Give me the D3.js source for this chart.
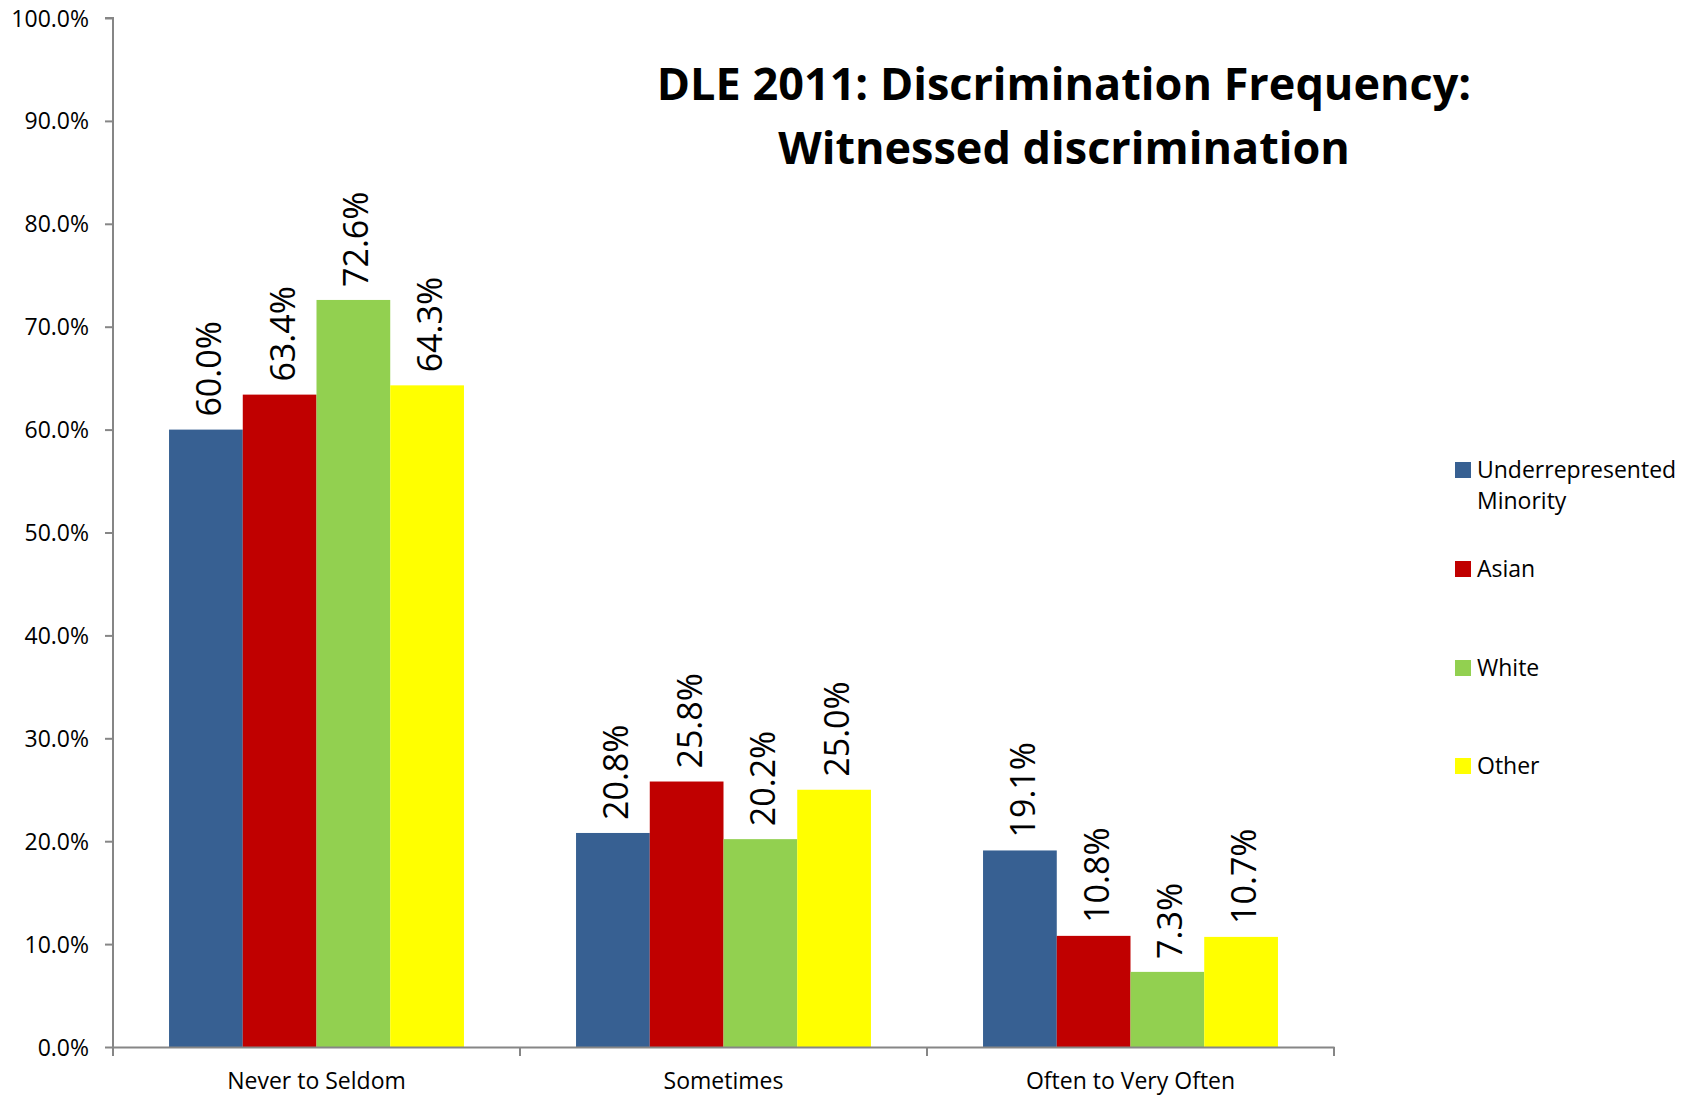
<!DOCTYPE html>
<html>
<head>
<meta charset="utf-8">
<script src="https://cdn.jsdelivr.net/npm/d3@7"></script>
<style>
  body { margin: 0; background: #fff; }
  svg { display: block; font-family: "Open Sans", sans-serif; }
</style>
</head>
<body>
<svg id="chart" width="1690" height="1097"></svg>
<script>
const categories = ['Never to Seldom', 'Sometimes', 'Often to Very Often'];
const seriesNames = ['Underrepresented Minority', 'Asian', 'White', 'Other'];
const seriesColors = ['#376092', '#C00000', '#92D050', '#FFFF00'];
const urmValues = [0.600, 0.208, 0.191];
const asianValues = [0.634, 0.258, 0.108];
const whiteValues = [0.726, 0.202, 0.073];
const otherValues = [0.643, 0.250, 0.107];
const yTicks = [0, 0.1, 0.2, 0.3, 0.4, 0.5, 0.6, 0.7, 0.8, 0.9, 1.0];
const titleLines = ['DLE 2011: Discrimination Frequency:', 'Witnessed discrimination'];

const seriesValues = [urmValues, asianValues, whiteValues, otherValues];
const AxisColor = '#868686';

const svg = d3.select('#chart');

const x = d3.scaleBand()
  .domain(categories)
  .range([113, 1334])
  .paddingInner(0)
  .paddingOuter(0);

const xInner = d3.scaleBand()
  .domain(seriesNames)
  .range([0, x.bandwidth()])
  .paddingOuter(0.76)
  .paddingInner(0);

const y = d3.scaleLinear()
  .domain([0, 1])
  .range([1047, 18]);

const pct = d3.format('.1%');

// bars
const groups = svg.append('g')
  .selectAll('g')
  .data(categories)
  .join('g')
  .attr('transform', cat => `translate(${x(cat)},0)`);

const cells = groups.selectAll('g')
  .data((cat, ci) => seriesNames.map((name, si) => ({
    name, color: seriesColors[si], value: seriesValues[si][ci]
  })))
  .join('g');

cells.append('rect')
  .attr('x', d => xInner(d.name))
  .attr('width', xInner.bandwidth())
  .attr('y', d => y(d.value))
  .attr('height', d => y(0) - y(d.value))
  .attr('fill', d => d.color);

cells.append('text')
  .attr('transform', d =>
    `translate(${xInner(d.name) + xInner.bandwidth() / 2 + 2},${y(d.value) - 13}) rotate(-90)`)
  .attr('dominant-baseline', 'central')
  .attr('font-size', 34)
  .attr('fill', '#000')
  .text(d => pct(d.value));

// y axis
const yAxis = svg.append('g')
  .attr('transform', 'translate(113,0)')
  .call(d3.axisLeft(y).tickValues(yTicks).tickFormat(pct).tickSize(8).tickPadding(16));

// x axis with ticks at category boundaries
const xAxis = svg.append('g')
  .attr('transform', `translate(0,${y(0)})`)
  .call(d3.axisBottom(x).tickSize(0).tickPadding(26));

const boundaries = categories.map(c => x(c)).concat(x.range()[1]);
xAxis.selectAll('.boundary')
  .data(boundaries)
  .join('line')
  .attr('class', 'boundary')
  .attr('x1', d => d).attr('x2', d => d)
  .attr('y1', 0).attr('y2', 9);

[yAxis, xAxis].forEach(axis => {
  axis.selectAll('path.domain').attr('stroke', AxisColor).attr('stroke-width', 2);
  axis.selectAll('line').attr('stroke', AxisColor).attr('stroke-width', 2);
  axis.selectAll('text')
    .attr('font-family', '"Open Sans", sans-serif')
    .attr('font-size', 23)
    .attr('fill', '#000');
});
yAxis.select('path.domain').attr('d', `M-8,${y(1)}H0V${y(0)}`);
yAxis.selectAll('text').attr('dy', '0.35em');

// title
svg.append('text')
  .attr('x', 1064)
  .attr('y', 100)
  .attr('text-anchor', 'middle')
  .attr('font-size', 45)
  .attr('font-weight', 'bold')
  .selectAll('tspan')
  .data(titleLines)
  .join('tspan')
  .attr('x', 1064)
  .attr('dy', (d, i) => i === 0 ? 0 : 64)
  .text(d => d);

// legend
const legendTop = [470, 569, 668, 766];
const legend = svg.append('g')
  .selectAll('g')
  .data(seriesNames)
  .join('g')
  .attr('transform', (d, i) => `translate(1455,${legendTop[i]})`);

legend.append('rect')
  .attr('x', 0)
  .attr('y', -8)
  .attr('width', 16)
  .attr('height', 16)
  .attr('fill', (d, i) => seriesColors[i]);

legend.append('text')
  .attr('x', 22)
  .attr('font-size', 23)
  .selectAll('tspan')
  .data(d => d === 'Underrepresented Minority' ? ['Underrepresented', 'Minority'] : [d])
  .join('tspan')
  .attr('x', 22)
  .attr('y', (d, i) => i * 31)
  .attr('dy', '0.35em')
  .text(d => d);
</script>
</body>
</html>
